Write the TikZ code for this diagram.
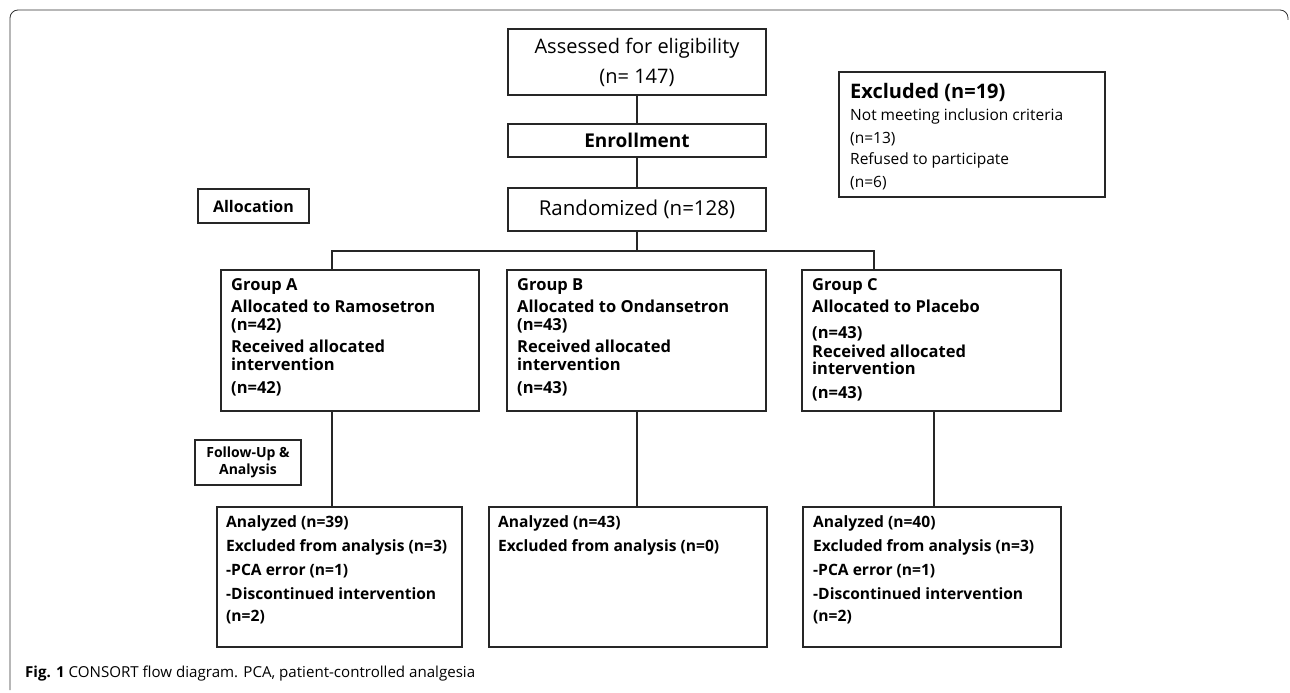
\documentclass[tikz,border=0pt]{standalone}
\usepackage{fontspec}
\setmainfont{Open Sans}
\begin{document}
\begin{tikzpicture}[x=1pt,y=-1pt,
  box/.style={draw=black!85, line width=1.6pt, inner sep=0pt},
  txt/.style={anchor=north west, inner sep=0pt, align=left, font=\bfseries\fontsize{16.5}{18}\selectfont},
  btxt/.style={anchor=north west, inner sep=0pt, align=left, font=\bfseries\fontsize{15.6}{24}\selectfont},
  conn/.style={draw=black!85, line width=1.6pt},
  frame/.style={draw=black!80, line width=0.8pt, rounded corners=8pt}]
\useasboundingbox (0,0) rectangle (1290,693);
% frame
\coordinate (f1) at (10,690);
\coordinate (f2) at (10,10);
\coordinate (f3) at (1288,10);
\coordinate (f4) at (1288,20);
\draw[frame] (f1) -- (f2) -- (f3) -- (f4);
% top column
\node[box, minimum width=258pt, minimum height=66pt, align=center,
  font=\fontsize{20}{24}\selectfont] (assess) at (637,62)
  {Assessed for eligibility\\[6pt](n= 147)};
\node[box, minimum width=258pt, minimum height=33pt,
  font=\bfseries\fontsize{19}{22}\selectfont] (enroll) at (637,140.5) {Enrollment};
\node[box, minimum width=258pt, minimum height=43pt,
  font=\fontsize{20.5}{24}\selectfont] (rand) at (637,209.5) {Randomized (n=128)};
% excluded
\node[box, minimum width=266pt, minimum height=125pt] (excl) at (972,134.5) {};
\node[anchor=north west, inner sep=0pt, align=left, font=\fontsize{15.5}{22.5}\selectfont] (excltxt) at (850,83)
  {{\bfseries\fontsize{20}{23}\selectfont Excluded (n=19)}\\
   Not meeting inclusion criteria\\
   (n=13)\\[-1pt]
   Refused to participate\\
   (n=6)};
% side labels
\node[box, minimum width=111pt, minimum height=34pt, font=\bfseries\fontsize{16}{19}\selectfont] (alloc) at (253.5,206) {Allocation};
\node[box, minimum width=106pt, minimum height=45pt, align=center, font=\bfseries\fontsize{14}{17}\selectfont] (follow) at (248,462.5) {Follow-Up \&\\Analysis};
% groups
\node[box, minimum width=258pt, minimum height=141pt] (ga) at (350,340.5) {};
\node[box, minimum width=259pt, minimum height=141pt] (gb) at (636.5,340.5) {};
\node[box, minimum width=259pt, minimum height=141pt] (gc) at (931.5,340.5) {};
\node[txt] (gatxt) at (231,278) {Group A\\[4pt]Allocated to Ramosetron\\(n=42)\\[4pt]Received allocated\\intervention\\[5pt](n=42)};
\node[txt] (gbtxt) at (517,278) {Group B\\[4pt]Allocated to Ondansetron\\(n=43)\\[4pt]Received allocated\\intervention\\[5pt](n=43)};
\node[txt] (gctxt) at (812,278) {Group C\\[4pt]Allocated to Placebo\\[8pt](n=43)\\[1pt]Received allocated\\[-1pt]intervention\\[6pt](n=43)};
% analysis boxes
\node[box, minimum width=245pt, minimum height=140pt] (aa) at (339.5,577) {};
\node[box, minimum width=278pt, minimum height=140pt] (ab) at (628,577) {};
\node[box, minimum width=258pt, minimum height=140pt] (ac) at (932,577) {};
\node[btxt] (aatxt) at (226,515) {Analyzed (n=39)\\Excluded from analysis (n=3)\\-PCA error (n=1)\\-Discontinued intervention\\[-2pt](n=2)};
\node[btxt] (abtxt) at (498,515) {Analyzed (n=43)\\Excluded from analysis (n=0)};
\node[btxt] (actxt) at (813,515) {Analyzed (n=40)\\Excluded from analysis (n=3)\\-PCA error (n=1)\\-Discontinued intervention\\[-2pt](n=2)};
% connectors
\draw[conn] (assess) -- (enroll);
\draw[conn] (enroll) -- (rand);
\coordinate (hl) at (332,251);
\coordinate (hr) at (874,251);
\coordinate (hm) at (637,251);
\draw[conn] (rand.south) -- (hm);
\draw[conn] (ga.north -| hl) -- (hl) -- (hr) -- (gc.north -| hr);
\draw[conn] (ga.south -| hl) -- (aa.north -| hl);
\draw[conn] (gb.south -| hm) -- (ab.north -| hm);
\coordinate (cx) at (934,0);
\draw[conn] (gc.south -| cx) -- (ac.north -| cx);
% caption
\node[anchor=base west, inner sep=0pt, font=\fontsize{15.1}{18}\selectfont] (cap) at (25,677)
  {\textbf{Fig. 1} CONSORT flow diagram. PCA, patient-controlled analgesia};
\end{tikzpicture}
\end{document}
